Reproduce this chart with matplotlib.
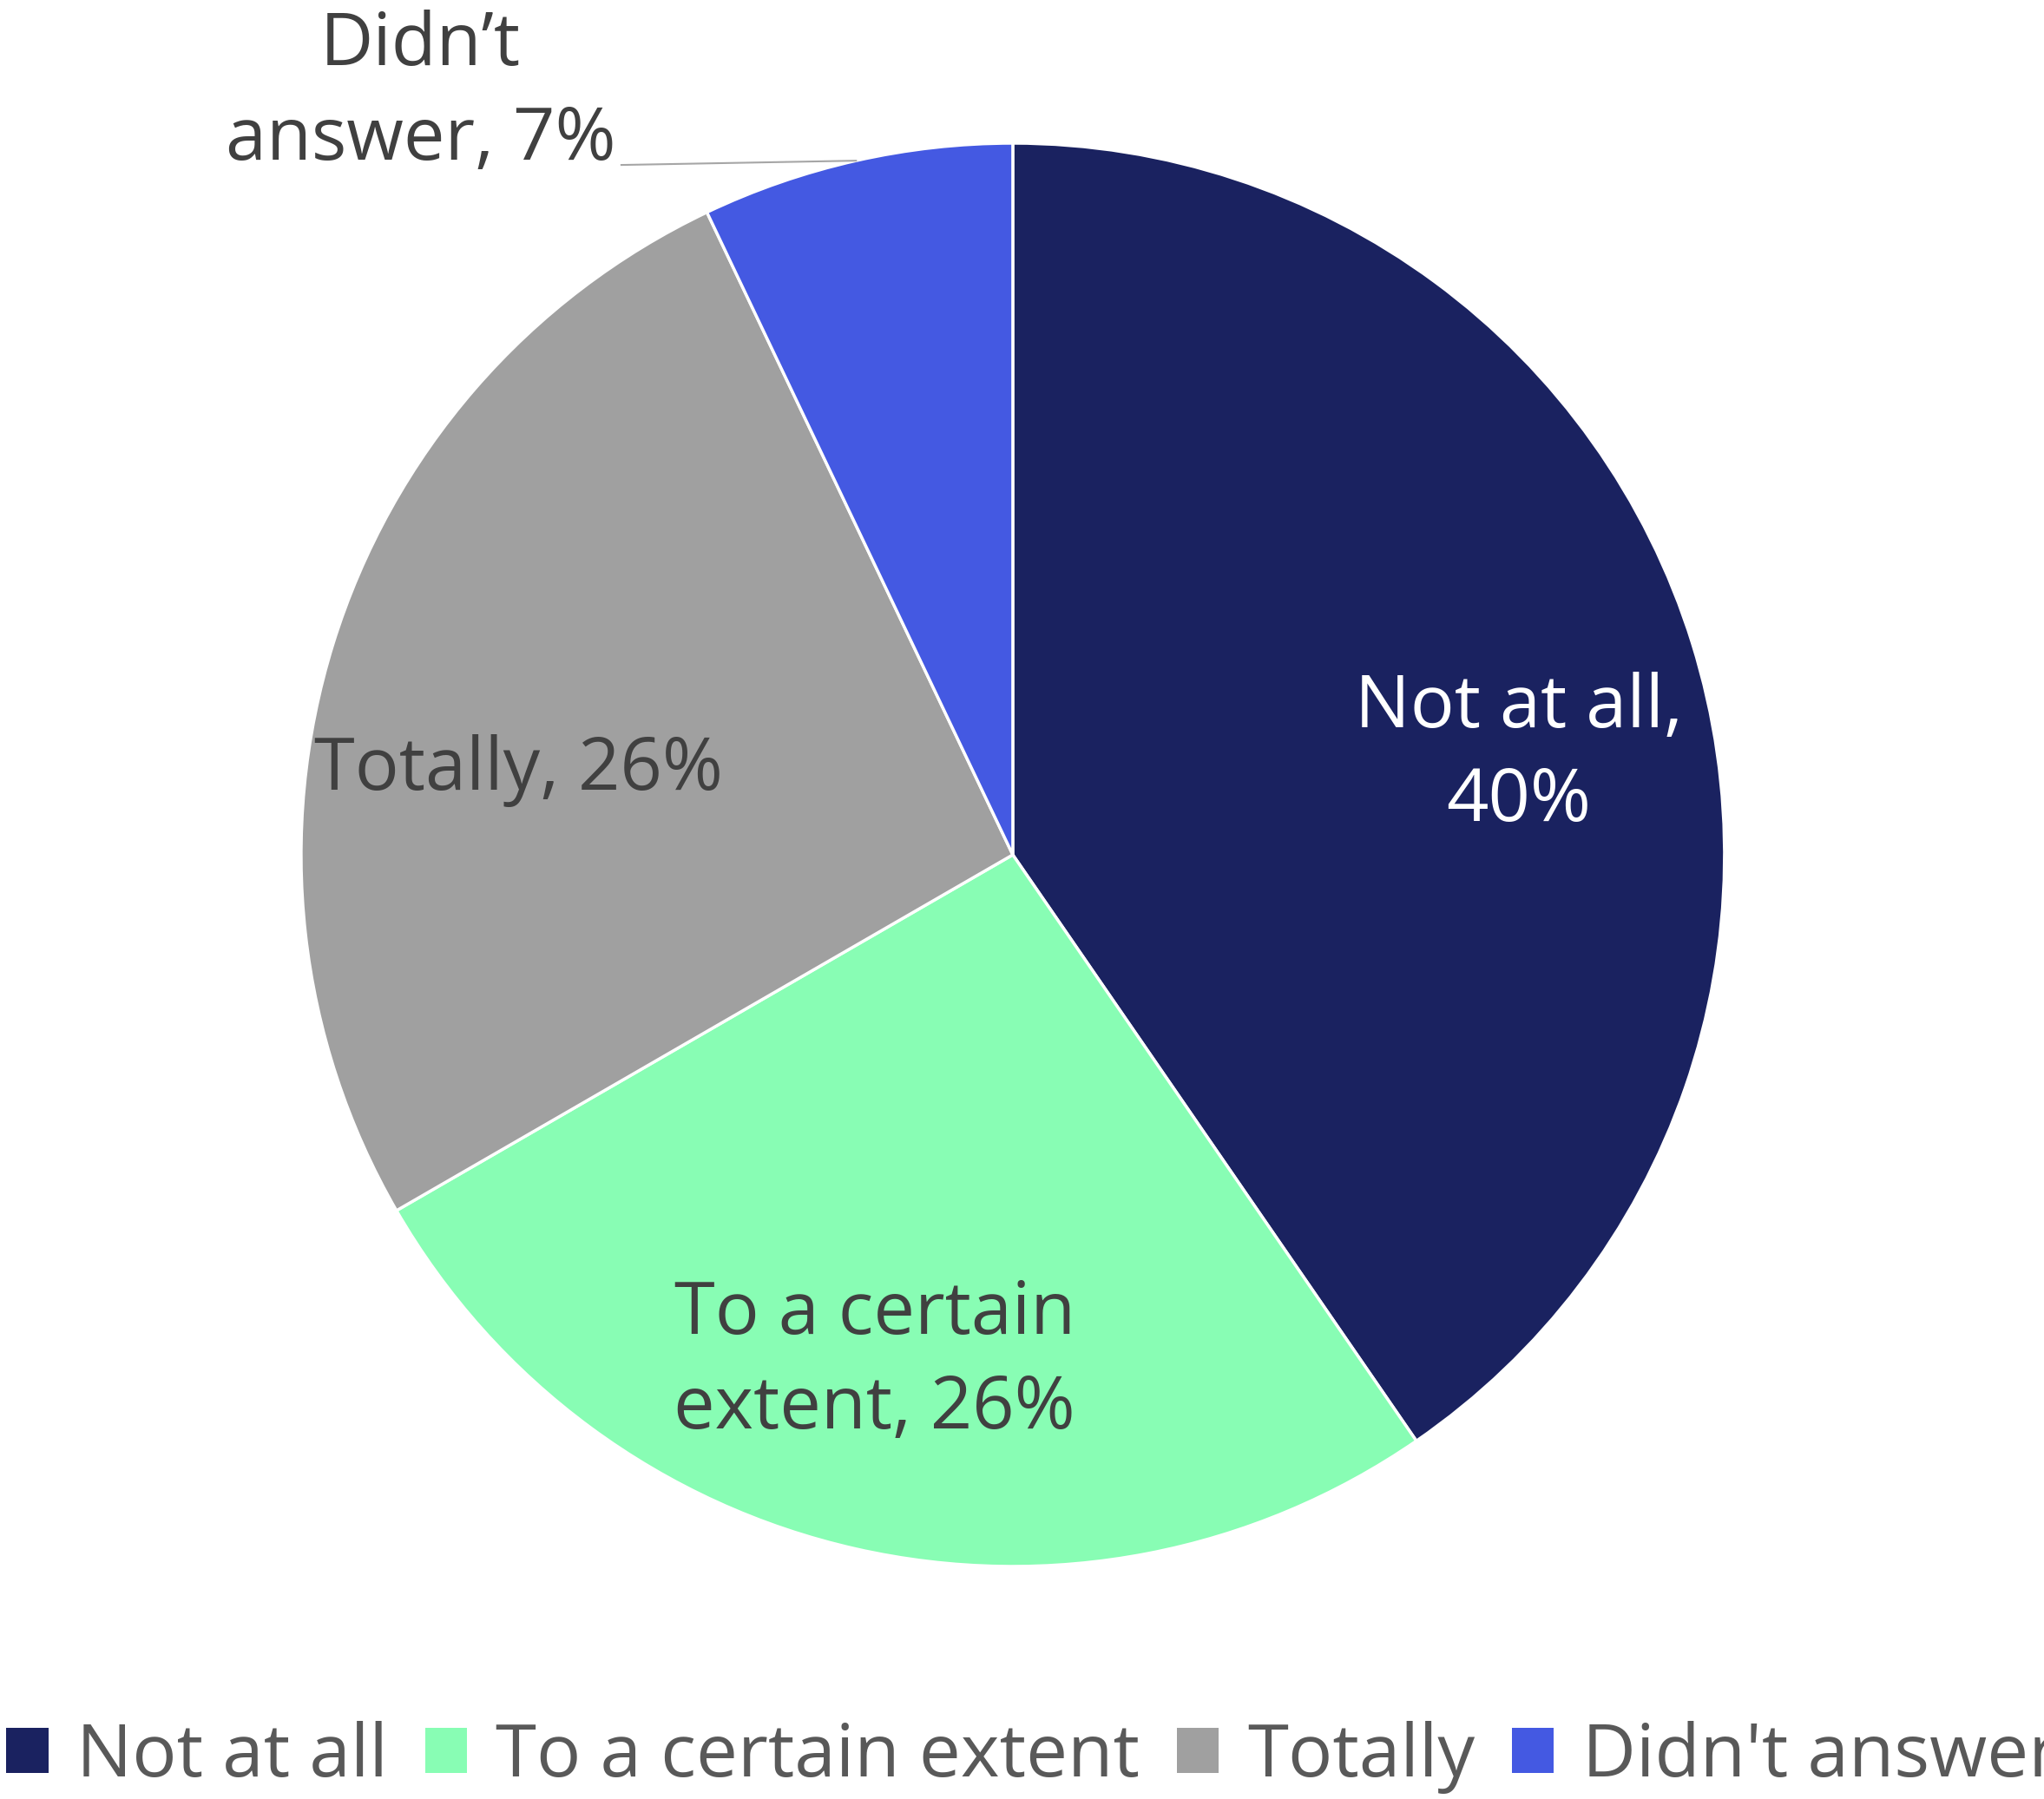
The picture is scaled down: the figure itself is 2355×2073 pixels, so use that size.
import numpy as np
import matplotlib.pyplot as plt
from matplotlib.patches import Patch

plt.rcParams['font.family'] = ['Open Sans', 'DejaVu Sans']

categories = ['Not at all', 'To a certain extent', 'Totally', "Didn't answer"]
values = [40, 26, 26, 7]
labels = ['Not at all,\n40%', 'To a certain\nextent, 26%', 'Totally, 26%', 'Didn\u2019t\nanswer, 7%']
colors = ['#1A2260', '#88FDB4', '#A0A0A0', '#4459E2']

fig = plt.figure(figsize=(23.55, 20.73), dpi=100)
ax = fig.add_axes([0.1473, 0.1293, 0.6964, 0.7911])

wedges, _ = ax.pie(values, colors=colors, startangle=90, counterclock=False,
                   radius=1.0, wedgeprops=dict(edgecolor='white', linewidth=2.5))
ax.set_xlim(-1, 1)
ax.set_ylim(-1, 1)
ax.set_aspect('equal')
ax.axis('off')

# data labels: white on the dark slice, dark grey elsewhere
lab_pos = [(0.711, 0.14), (-0.194, -0.713), (-0.694, 0.118)]
lab_col = ['white', '#404040', '#404040']
for (x, y), txt, c in zip(lab_pos, labels[:3], lab_col):
    ax.text(x, y, txt, ha='center', va='center', fontsize=61, color=c,
            linespacing=1.38)

# outside label with leader line for the small slice
w = wedges[3]
mid = np.deg2rad((w.theta1 + w.theta2) / 2)
x0, y0 = np.cos(mid), np.sin(mid)
ax.plot([x0, -0.55], [y0, y0 - 0.006], color='#A6A6A6', lw=1.5, clip_on=False)
ax.text(-0.832, 1.07, labels[3], ha='center', va='center', fontsize=61,
        color='#404040', linespacing=1.38, clip_on=False)

handles = [Patch(facecolor=c, edgecolor='none') for c in colors]
fig.legend(handles, categories, loc='center left', bbox_to_anchor=(0.003, 0.023),
           ncol=4, frameon=False, fontsize=61.5, labelcolor='#595959',
           handlelength=0.57, handleheight=0.57, handletextpad=0.38,
           columnspacing=0.5, borderpad=0, borderaxespad=0)

fig.savefig('out.png', dpi=100)
